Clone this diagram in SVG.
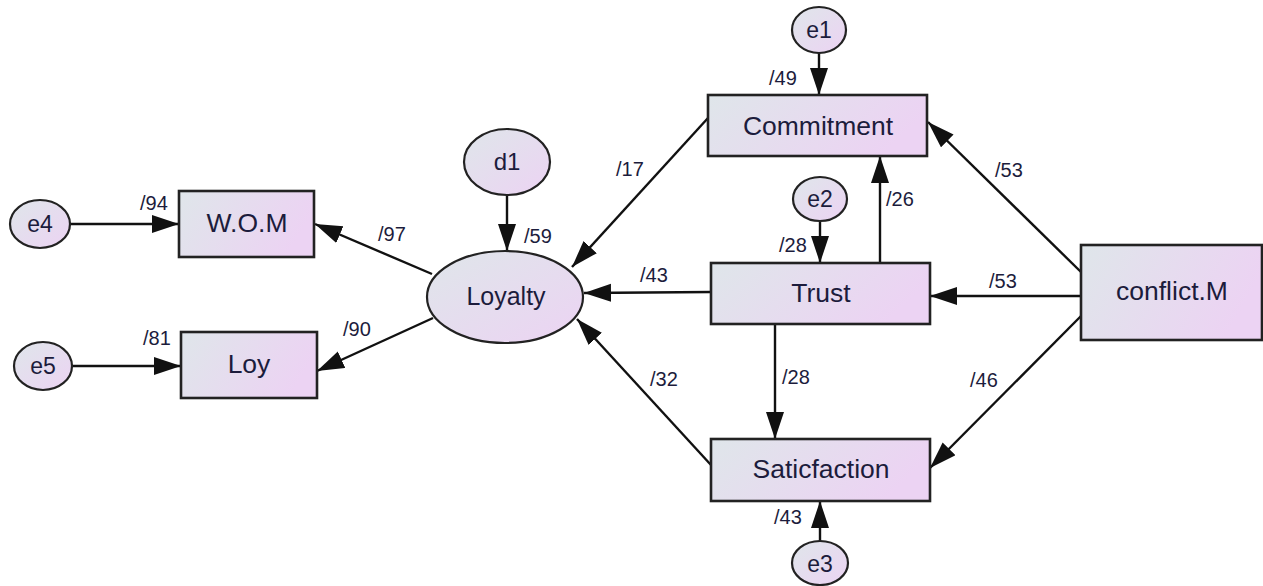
<svg xmlns="http://www.w3.org/2000/svg" width="1263" height="586" viewBox="0 0 1263 586">
<defs>
<linearGradient id="gb" x1="0" y1="0" x2="1" y2="0.3">
<stop offset="0" stop-color="#dfe6ea"/>
<stop offset="1" stop-color="#ecd3f3"/>
</linearGradient>
<linearGradient id="ge" x1="0" y1="0" x2="1" y2="1">
<stop offset="0" stop-color="#dfe6ea"/>
<stop offset="1" stop-color="#ecd3f3"/>
</linearGradient>
<marker id="ah" markerUnits="userSpaceOnUse" markerWidth="30" markerHeight="20" refX="27" refY="9" orient="auto">
<path d="M0,0 L27,9 L0,18 Z" fill="#111"/>
</marker>
<style>
.box{fill:url(#gb);stroke:#222;stroke-width:2.6}
.ell{fill:url(#ge);stroke:#222;stroke-width:2.2}
.nt{font-family:"Liberation Sans",Arial,sans-serif;font-size:26.5px;fill:#1c1c3c;text-anchor:middle}
.et{font-family:"Liberation Sans",Arial,sans-serif;font-size:23px;fill:#1c1c3c;text-anchor:middle}
.lb{font-family:"Liberation Sans",Arial,sans-serif;font-size:20px;fill:#1c1c3c}
.cn{fill:none;stroke:#111;stroke-width:2.4;marker-end:url(#ah)}
</style>
</defs>
<rect width="1263" height="586" fill="#fff"/>
<g id="connectors">
<path class="cn" d="M819,53 L819,95"/>
<path class="cn" d="M820,221 L820,263"/>
<path class="cn" d="M820,541 L820,501"/>
<path class="cn" d="M507,195 L507,251"/>
<path class="cn" d="M70,224 L179,224"/>
<path class="cn" d="M72,366 L181,366"/>
<path class="cn" d="M880,263 L880,156"/>
<path class="cn" d="M775,324 L775,439"/>
<path class="cn" d="M711,292 L584,293"/>
<path class="cn" d="M708,118 L572,267"/>
<path class="cn" d="M711,465 L577,319"/>
<path class="cn" d="M432,274 L315,224"/>
<path class="cn" d="M433,318 L317,371"/>
<path class="cn" d="M1081,272 L928,122"/>
<path class="cn" d="M1081,296 L930,296"/>
<path class="cn" d="M1081,316 L930,468"/>
</g>
<g id="labels">
<text class="lb" x="769" y="85">/49</text>
<text class="lb" x="140" y="210">/94</text>
<text class="lb" x="143" y="345">/81</text>
<text class="lb" x="378" y="241">/97</text>
<text class="lb" x="343" y="336">/90</text>
<text class="lb" x="524" y="243">/59</text>
<text class="lb" x="616" y="176">/17</text>
<text class="lb" x="640" y="282">/43</text>
<text class="lb" x="650" y="386">/32</text>
<text class="lb" x="886" y="206">/26</text>
<text class="lb" x="995" y="177">/53</text>
<text class="lb" x="989" y="288">/53</text>
<text class="lb" x="779" y="252">/28</text>
<text class="lb" x="782" y="384">/28</text>
<text class="lb" x="970" y="387">/46</text>
<text class="lb" x="774" y="524">/43</text>
</g>
<g id="e1"><ellipse class="ell" cx="819" cy="30" rx="27" ry="23"/><text class="et" x="819" y="38">e1</text></g>
<g id="e2"><ellipse class="ell" cx="820" cy="199" rx="27" ry="22"/><text class="et" x="820" y="207">e2</text></g>
<g id="e3"><ellipse class="ell" cx="820" cy="563" rx="28" ry="22"/><text class="et" x="820" y="572">e3</text></g>
<g id="e4"><ellipse class="ell" cx="40" cy="224" rx="30" ry="24"/><text class="et" x="40" y="232">e4</text></g>
<g id="e5"><ellipse class="ell" cx="43" cy="366" rx="29" ry="24"/><text class="et" x="43" y="374">e5</text></g>
<g id="d1"><ellipse class="ell" cx="507" cy="162" rx="43" ry="33"/><text class="et" x="507" y="170" style="font-size:24px">d1</text></g>
<g id="Loyalty"><ellipse class="ell" cx="505" cy="297" rx="78" ry="46"/><text class="nt" x="506" y="305" style="font-size:25px">Loyalty</text></g>
<g id="Commitment"><rect class="box" x="708" y="95" width="219" height="61"/><text class="nt" x="818" y="135">Commitment</text></g>
<g id="Trust"><rect class="box" x="711" y="263" width="219" height="61"/><text class="nt" x="821" y="302">Trust</text></g>
<g id="Saticfaction"><rect class="box" x="711" y="439" width="219" height="62"/><text class="nt" x="821" y="478">Saticfaction</text></g>
<g id="conflictM"><rect class="box" x="1081" y="245" width="181" height="95"/><text class="nt" x="1172" y="300">conflict.M</text></g>
<g id="WOM"><rect class="box" x="179" y="191" width="135" height="66"/><text class="nt" x="247" y="232">W.O.M</text></g>
<g id="Loy"><rect class="box" x="181" y="332" width="136" height="66"/><text class="nt" x="249" y="373">Loy</text></g>
</svg>
